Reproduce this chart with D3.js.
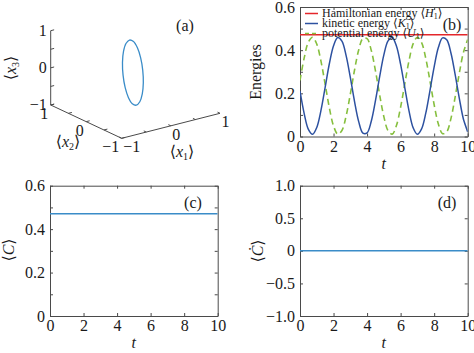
<!DOCTYPE html>
<html><head><meta charset="utf-8">
<script src="https://cdn.jsdelivr.net/npm/d3@7"></script>
<style>
body{margin:0;background:#fff}
svg{display:block}
</style>
</head><body>
<svg id="chart" width="474" height="353"></svg>
<script>
// ---------- DATA ----------
// (a) trajectory in 3D (x1, x2, x3)
const trajX1 = [-0.12,-0.038,0.042,0.108,0.15,0.162,0.141,0.091,0.02,-0.062,-0.142,-0.208,-0.25,-0.262,-0.241,-0.191];
const trajX2 = [0,0,0,0,0,0,0,0,0,0,0,0,0,0,0,0];
const trajX3 = [0.9,0.832,0.636,0.345,0,-0.345,-0.636,-0.832,-0.9,-0.832,-0.636,-0.345,0,0.345,0.636,0.832];
const axis3dTicks = [-1,-0.5,0,0.5,1];
const axis3dLabels = [-1,0,1];

// (b) energies vs t
const tSamples = [0,0.25,0.5,0.75,1,1.25,1.5,1.75,2,2.25,2.5,2.75,3,3.25,3.5,3.75,4,4.25,4.5,4.75,5,5.25,5.5,5.75,6,6.25,6.5,6.75,7,7.25,7.5,7.75,8,8.25,8.5,8.75,9,9.25,9.5,9.75,10];
const kinetic = [0.210,0.106,0.033,0.010,0.042,0.121,0.228,0.337,0.421,0.459,0.442,0.375,0.274,0.163,0.069,0.016,0.017,0.071,0.166,0.277,0.378,0.443,0.459,0.419,0.334,0.225,0.119,0.040,0.010,0.035,0.108,0.213,0.323,0.412,0.457,0.448,0.387,0.288,0.177,0.079,0.021];
const potential = [0.260,0.364,0.437,0.460,0.428,0.349,0.242,0.133,0.049,0.011,0.028,0.095,0.196,0.307,0.401,0.454,0.453,0.399,0.304,0.193,0.092,0.027,0.011,0.051,0.136,0.245,0.351,0.430,0.460,0.435,0.362,0.257,0.147,0.058,0.013,0.022,0.083,0.182,0.293,0.391,0.449];
const hamT = [0,10];
const hamiltonian = [0.472,0.472];
const legendNames = ["Hamiltonian energy","kinetic energy","potential energy"];
const legendSyms = ["H","K","U"];

// (c) <C> and (d) d<C>/dt
const cT = [0,10];
const cVals = [0.471,0.471];
const dcVals = [0,0];

const xTicks = [0,2,4,6,8,10];
const yTicksB = [0,0.1,0.2,0.3,0.4,0.5,0.6];
const yLabelsB = [0,0.2,0.4,0.6];
const yTicksD = [-1,-0.5,0,0.5,1];

// ---------- STYLE ----------
const FONT = '"Liberation Serif", "Times New Roman", "DejaVu Serif", serif';
const axisColor = "#4a4a4a";
const fs = 16;
const colLine = "#3a8cc8";
const colK = "#2d51a0";
const colU = "#86bf3e";
const colH = "#e4262b";

const svg = d3.select("#chart").style("font-family", FONT);

function txt(sel){
  return sel.append("text").style("font-family", FONT).attr("fill","#1a1a1a");
}

function fmtY(v){ return Math.abs(v) < 1e-9 ? "0" : d3.format(".1f")(v); }

function styleAxis(g){
  g.attr("font-family", null);
  g.selectAll("path.domain").attr("stroke", axisColor);
  g.selectAll(".tick line").attr("stroke", axisColor);
  g.selectAll("text").attr("font-size", fs).attr("fill", "#1a1a1a").style("font-family", FONT);
}

function panel2d(opt){
  const x = d3.scaleLinear().domain([0,10]).range([opt.x0, opt.x1]);
  const y = d3.scaleLinear().domain(opt.yDomain).range([opt.y1, opt.y0]);
  const g = svg.append("g");
  const lab = d => opt.yLabels.some(v => Math.abs(v-d) < 1e-9) ? fmtY(d) : "";
  g.append("g").attr("transform", `translate(0,${opt.y1})`)
    .call(d3.axisBottom(x).tickValues(xTicks).tickSizeInner(-3).tickSizeOuter(0).tickPadding(4).tickFormat(d3.format("d")))
    .call(styleAxis);
  g.append("g").attr("transform", `translate(0,${opt.y0})`)
    .call(d3.axisTop(x).tickValues(xTicks).tickSizeInner(-3).tickSizeOuter(0).tickFormat(""))
    .call(styleAxis);
  g.append("g").attr("transform", `translate(${opt.x0},0)`)
    .call(d3.axisLeft(y).tickValues(opt.yTicks).tickSizeInner(-3).tickSizeOuter(0).tickPadding(5).tickFormat(lab))
    .call(styleAxis);
  g.append("g").attr("transform", `translate(${opt.x1},0)`)
    .call(d3.axisRight(y).tickValues(opt.yTicks).tickSizeInner(-3).tickSizeOuter(0).tickFormat(""))
    .call(styleAxis);
  const clipId = "clip" + opt.id;
  svg.append("clipPath").attr("id", clipId).append("rect")
    .attr("x", opt.x0).attr("y", opt.y0).attr("width", opt.x1-opt.x0).attr("height", opt.y1-opt.y0);
  const plot = g.append("g").attr("clip-path", `url(#${clipId})`);
  txt(g).attr("x", (opt.x0+opt.x1)/2).attr("y", opt.y1 + 32)
    .attr("text-anchor","middle").attr("font-size", fs).attr("font-style","italic").text("t");
  return {x, y, g, plot};
}

// ---------- (b) ----------
{
  const P = panel2d({id:"b", x0:300, x1:467.7, y0:7, y1:136.5, yDomain:[0,0.6], yTicks:yTicksB, yLabels:yLabelsB});
  const line = d3.line().x(d => P.x(d[0])).y(d => P.y(d[1])).curve(d3.curveCatmullRom.alpha(0.5));
  P.plot.append("path").datum(tSamples.map((t,i)=>[t,potential[i]])).attr("d", line)
    .attr("fill","none").attr("stroke", colU).attr("stroke-width",1.6).attr("stroke-dasharray","6,4");
  P.plot.append("path").datum(tSamples.map((t,i)=>[t,kinetic[i]])).attr("d", line)
    .attr("fill","none").attr("stroke", colK).attr("stroke-width",1.5);
  P.plot.append("path").datum(hamT.map((t,i)=>[t,hamiltonian[i]])).attr("d", d3.line().x(d=>P.x(d[0])).y(d=>P.y(d[1])))
    .attr("fill","none").attr("stroke", colH).attr("stroke-width",1.5);
  txt(P.g).attr("transform","translate(261,72) rotate(-90)").attr("text-anchor","middle")
    .attr("font-size", fs).text("Energies");
  const cols = [colH, colK, colU];
  const lg = P.g.append("g").attr("transform","translate(305,13.5)");
  legendNames.forEach((n,i)=>{
    const row = lg.append("g").attr("transform",`translate(0,${i*10})`);
    row.append("line").attr("x1",0).attr("x2",13).attr("y1",0).attr("y2",0)
      .attr("stroke", cols[i]).attr("stroke-width",1.5).attr("stroke-dasharray", i===2 ? "4,3" : null);
    const t = txt(row).attr("x",17).attr("y",3.8).attr("font-size",12);
    t.append("tspan").text(n + " \u27E8");
    t.append("tspan").attr("font-style","italic").text(legendSyms[i]);
    t.append("tspan").attr("font-size",8).attr("dy",2).text("1");
    t.append("tspan").attr("dy",-2).text("\u27E9");
  });
  txt(P.g).attr("x",452).attr("y",30).attr("text-anchor","middle").attr("font-size",fs).text("(b)");
}

// ---------- (c) ----------
{
  const P = panel2d({id:"c", x0:50, x1:217.7, y0:185.7, y1:316, yDomain:[0,0.6], yTicks:yTicksB, yLabels:yLabelsB});
  P.plot.append("path").datum(cT.map((t,i)=>[t,cVals[i]])).attr("d", d3.line().x(d=>P.x(d[0])).y(d=>P.y(d[1])))
    .attr("fill","none").attr("stroke", colLine).attr("stroke-width",1.5);
  const yl = txt(P.g).attr("transform","translate(14,250) rotate(-90)").attr("text-anchor","middle").attr("font-size",fs);
  yl.append("tspan").text("\u27E8");
  yl.append("tspan").attr("font-style","italic").text("C");
  yl.append("tspan").text("\u27E9");
  txt(P.g).attr("x",193).attr("y",208).attr("text-anchor","middle").attr("font-size",fs).text("(c)");
}

// ---------- (d) ----------
{
  const P = panel2d({id:"d", x0:300, x1:467.7, y0:185.7, y1:316, yDomain:[-1,1], yTicks:yTicksD, yLabels:yTicksD});
  P.plot.append("path").datum(cT.map((t,i)=>[t,dcVals[i]])).attr("d", d3.line().x(d=>P.x(d[0])).y(d=>P.y(d[1])))
    .attr("fill","none").attr("stroke", colLine).attr("stroke-width",1.5);
  const yl = txt(P.g).attr("transform","translate(263,251) rotate(-90)").attr("text-anchor","middle").attr("font-size",fs);
  yl.append("tspan").text("\u27E8");
  yl.append("tspan").attr("font-style","italic").text("\u010A");
  yl.append("tspan").text("\u27E9");
  txt(P.g).attr("x",447).attr("y",208).attr("text-anchor","middle").attr("font-size",fs).text("(d)");
}

// ---------- (a) 3D ----------
{
  const ox = 121.7, oy = 138.3; // screen position of (-1,-1,-1)
  const s1x = d3.scaleLinear().domain([-1,1]).range([0,98.3]);
  const s1y = d3.scaleLinear().domain([-1,1]).range([0,-25]);
  const s2x = d3.scaleLinear().domain([-1,1]).range([0,-71]);
  const s2y = d3.scaleLinear().domain([-1,1]).range([0,-33.3]);
  const s3y = d3.scaleLinear().domain([-1,1]).range([0,-74.3]);
  const proj = (a,b,c) => [ox + s1x(a) + s2x(b), oy + s1y(a) + s2y(b) + s3y(c)];
  const g = svg.append("g");
  const seg = (p,q) => g.append("line").attr("x1",p[0]).attr("y1",p[1]).attr("x2",q[0]).attr("y2",q[1])
      .attr("stroke", axisColor).attr("stroke-width",1);
  seg(proj(-1,-1,-1), proj(1,-1,-1));   // x1
  seg(proj(-1,-1,-1), proj(-1,1,-1));   // x2
  seg(proj(-1,1,-1), proj(-1,1,1));     // x3
  const tl = 0.07;
  axis3dTicks.forEach(v=>{
    seg(proj(v,-1,-1), proj(v,-1+tl,-1));
    seg(proj(-1,v,-1), proj(-1+tl,v,-1));
    seg(proj(-1,1,v), proj(-1+tl,1,v));
  });
  const fmt = v => d3.format("d")(v);
  axis3dLabels.forEach(v=>{
    const p3 = proj(-1,1,v);
    txt(g).attr("x",p3[0]-4).attr("y",p3[1]+5).attr("text-anchor","end").attr("font-size",fs).text(fmt(v));
    const p2 = proj(-1,v,-1);
    txt(g).attr("x",p2[0]-2.5).attr("y",p2[1]+14).attr("text-anchor","end").attr("font-size",fs).text(fmt(v));
    const p1 = proj(v,-1,-1);
    txt(g).attr("x",p1[0]+1.5).attr("y",p1[1]+14).attr("text-anchor","start").attr("font-size",fs).text(fmt(v));
  });
  function axLabel(x,y,sub,rot){
    const t = txt(g).attr("font-size",fs).attr("text-anchor","middle")
      .attr("transform", `translate(${x},${y})` + (rot ? " rotate(-90)" : ""));
    t.append("tspan").text("\u27E8");
    t.append("tspan").attr("font-style","italic").text("x");
    t.append("tspan").attr("font-size",10).attr("dy",3).text(sub);
    t.append("tspan").attr("dy",-3).text("\u27E9");
  }
  axLabel(68,147,"2",false);
  axLabel(182,157,"1",false);
  axLabel(16,68,"3",true);
  txt(g).attr("x",185).attr("y",31).attr("text-anchor","middle").attr("font-size",fs).text("(a)");
  const pts = trajX1.map((a,i)=>proj(a, trajX2[i], trajX3[i]));
  g.append("path").attr("d", d3.line().curve(d3.curveCatmullRomClosed.alpha(0.5))(pts))
    .attr("fill","none").attr("stroke", colLine).attr("stroke-width",1.3);
}
</script>
</body></html>
